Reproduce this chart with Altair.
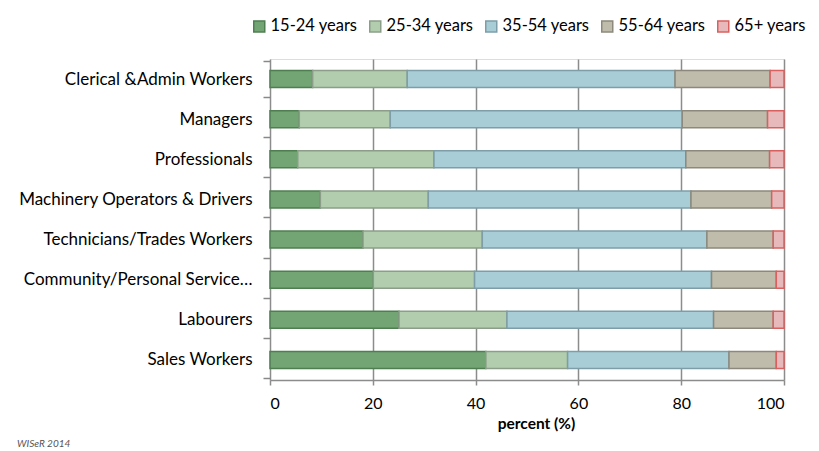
import altair as alt
import pandas as pd

occupations = [
    "Clerical &Admin Workers",
    "Managers",
    "Professionals",
    "Machinery Operators & Drivers",
    "Technicians/Trades Workers",
    "Community/Personal Service Workers",
    "Labourers",
    "Sales Workers",
]
age_groups = ["15-24 years", "25-34 years", "35-54 years", "55-64 years", "65+ years"]

v_15_24 = [8.3, 5.7, 5.4, 9.8, 18.1, 20.1, 25.1, 42.0]
v_25_34 = [18.4, 17.7, 26.5, 21.0, 23.2, 19.7, 21.0, 15.9]
v_35_54 = [52.1, 56.8, 49.0, 51.1, 43.7, 46.1, 40.2, 31.4]
v_55_64 = [18.5, 16.6, 16.3, 15.7, 12.9, 12.6, 11.6, 9.2]
v_65p = [2.7, 3.2, 2.8, 2.4, 2.1, 1.5, 2.1, 1.5]

fills = ["#72a474", "#b1cdae", "#a9cdd7", "#c0bcac", "#e8b9ba"]
strokes = ["#4f7e51", "#8c9e89", "#7d9ea8", "#8c897c", "#d9605f"]

series = [v_15_24, v_25_34, v_35_54, v_55_64, v_65p]
rows = []
for gi, (g, vals) in enumerate(zip(age_groups, series)):
    for occ, v in zip(occupations, vals):
        rows.append({"occupation": occ, "age": g, "order": gi, "percent": v})
df = pd.DataFrame(rows)

FONT = "Lato"

legend = alt.Legend(
    orient="none",
    legendX=-19,
    legendY=-41,
    direction="horizontal",
    title=None,
    symbolType="square",
    symbolSize=121,
    symbolStrokeWidth=1.5,
    labelFontSize=16.5,
    labelFont=FONT,
    labelColor="#000000",
    columnPadding=8,
    labelOffset=3,
)

chart = (
    alt.Chart(df)
    .mark_bar(size=17, strokeWidth=1.5)
    .encode(
        y=alt.Y(
            "occupation:N",
            sort=occupations,
            title=None,
            axis=alt.Axis(
                tickBand="extent",
                tickSize=7,
                tickColor="#888888",
                tickWidth=1.5,
                domain=False,
                labelPadding=11,
                labelFontSize=17,
                labelColor="#000000",
                labelFont=FONT,
                labelLimit=260,
                labelExpr="datum.label == 'Community/Personal Service Workers' ? 'Community/Personal Service…' : datum.label",
            ),
        ),
        x=alt.X(
            "percent:Q",
            stack="zero",
            scale=alt.Scale(domain=[0, 100], nice=False),
            title="percent (%)",
            axis=alt.Axis(
                values=[0, 20, 40, 60, 80, 100],
                grid=True,
                gridColor="#8c8c8c",
                gridWidth=1.5,
                domainColor="#8c8c8c",
                domainWidth=1.5,
                tickColor="#8c8c8c",
                tickSize=5,
                tickWidth=1.5,
                labelPadding=10,
                labelFontSize=16,
                labelColor="#000000",
                labelFont=FONT,
                titleFont=FONT,
                titleFontSize=15.5,
                titleFontWeight="bold",
                titleColor="#000000",
                titlePadding=5,
                titleX=266,
            ),
        ),
        fill=alt.Fill(
            "age:N",
            scale=alt.Scale(domain=age_groups, range=fills),
            legend=legend,
        ),
        stroke=alt.Stroke(
            "age:N",
            scale=alt.Scale(domain=age_groups, range=strokes),
            legend=legend,
        ),
        order=alt.Order("order:Q", sort="ascending"),
    )
)

note = (
    alt.Chart(pd.DataFrame({"t": ["WISeR 2014"]}))
    .mark_text(
        align="left",
        baseline="top",
        fontSize=10,
        fontStyle="italic",
        color="#555555",
        font=FONT,
    )
    .encode(text="t:N", x=alt.value(-253), y=alt.value(380))
)

final = (
    alt.layer(chart, note)
    .properties(
        width=514,
        height=321,
        autosize=alt.AutoSizeParams(type="none"),
        padding={"left": 270, "top": 59, "right": 35, "bottom": 71},
    )
    .configure_view(fill="#e6e6e6", strokeWidth=0)
    .configure(background="#ffffff")
)

final.save("out.html", embed_options={"renderer": "svg", "actions": False})
